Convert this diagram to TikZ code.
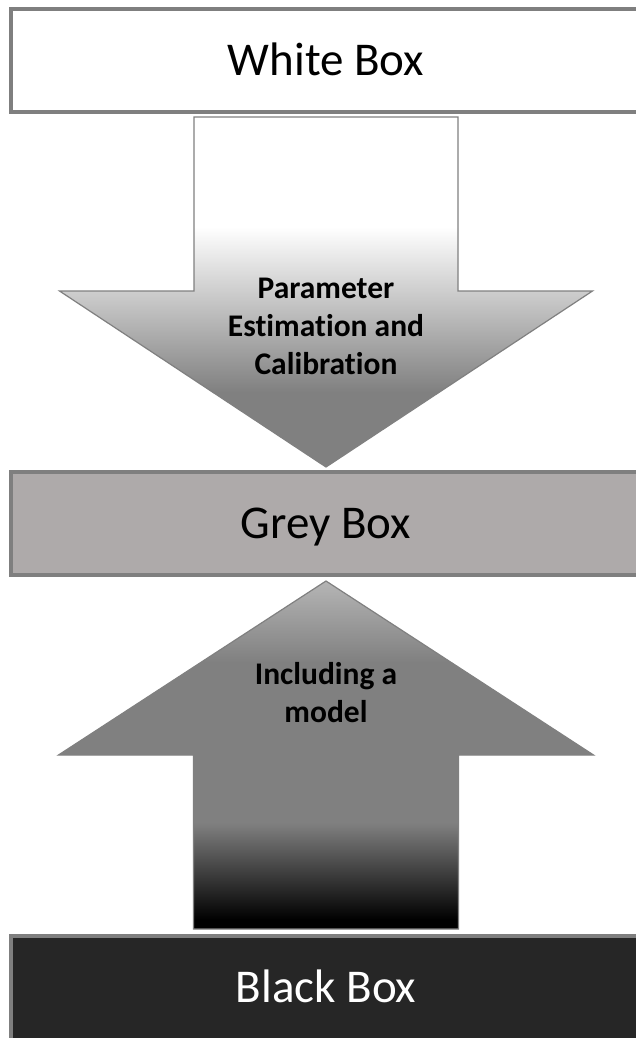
\documentclass[tikz,border=0pt]{standalone}
\usepackage{fontspec}
\setmainfont{Carlito}[Ligatures=NoCommon]
\pgfdeclareverticalshading{downshade}{100bp}{rgb(0bp)=(0.5,0.5,0.5); rgb(35.6bp)=(0.5,0.5,0.5); rgb(59.3bp)=(1,1,1); rgb(100bp)=(1,1,1)}
\pgfdeclareverticalshading{upshade}{100bp}{rgb(0bp)=(0,0,0); rgb(26.3bp)=(0,0,0); rgb(40.2bp)=(0.5,0.5,0.5); rgb(63.2bp)=(0.5,0.5,0.5); rgb(75bp)=(0.71,0.71,0.71); rgb(100bp)=(0.71,0.71,0.71)}
\definecolor{boxborder}{RGB}{127,127,127}
\definecolor{greyfill}{RGB}{174,170,170}
\definecolor{blackfill}{RGB}{38,38,38}
\definecolor{arrowline}{RGB}{128,128,128}
\tikzset{
  boxedge/.style={draw=boxborder, line width=4pt},
  boxlabel/.style={inner sep=0pt, text height=30pt, text depth=0pt, font=\fontsize{47}{56}\selectfont},
  arrowshape/.style={draw=arrowline, line width=1.2pt},
  arrowlabel/.style={align=center, inner sep=0pt, font=\fontsize{31.5}{38}\selectfont\bfseries}
}
\begin{document}
\begin{tikzpicture}[x=1pt,y=-1pt]
\useasboundingbox (0,0) rectangle (636,1038);
\clip (0,0) rectangle (636,1038);
\fill[white] (0,0) rectangle (636,1038);
% boxes (open on the right: they run past the page edge)
\fill[white] (11,9) rectangle (640,112);
\draw[boxedge] (640,9) -- (11,9) -- (11,112) -- (640,112);
\node[boxlabel, text=black] (white) at (326,60.5) {White Box};
\fill[greyfill] (11,472) rectangle (640,575);
\draw[boxedge] (640,472) -- (11,472) -- (11,575) -- (640,575);
\node[boxlabel, text=black] (grey) at (326,523.5) {Grey Box};
\fill[blackfill] (11,936) rectangle (640,1040);
\draw[boxedge] (640,936) -- (11,936) -- (11,1040);
\node[boxlabel, text=white] (black) at (326,987.5) {Black Box};
% down arrow
\path[arrowshape, shading=downshade]
  (194,117) -- (458,117) -- (458,291) -- (592.5,291) -- (326,467) -- (59.5,291) -- (194,291) -- cycle;
\node[arrowlabel] (down) at (326,326) {Parameter\\Estimation and\\Calibration};
% up arrow
\path[arrowshape, shading=upshade]
  (326,581) -- (593.5,755) -- (458.5,755) -- (458.5,929) -- (193.5,929) -- (193.5,755) -- (58.5,755) -- cycle;
\node[arrowlabel] (up) at (326,693) {Including a\\model};
\end{tikzpicture}
\end{document}
